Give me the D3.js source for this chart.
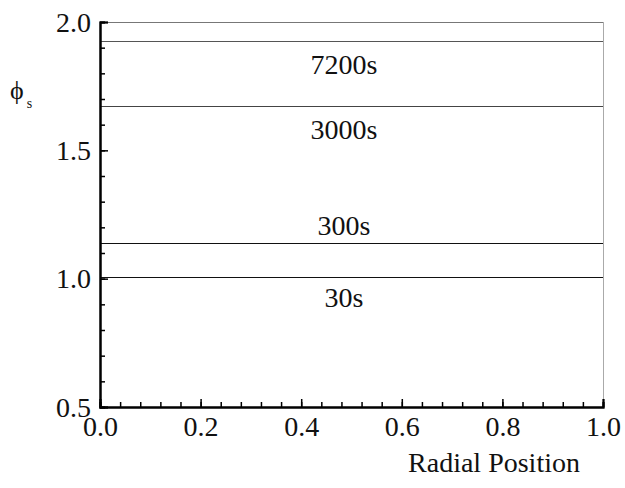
<!DOCTYPE html>
<html>
<head>
<meta charset="utf-8">
<script src="https://cdn.jsdelivr.net/npm/d3@7"></script>
</head>
<body style="margin:0">
<svg id="chart" width="625" height="488"></svg>
<script>
// Solid volume fraction profiles at successive times
const timeLabels = ["7200s", "3000s", "300s", "30s"];
const phiValues  = [1.925, 1.672, 1.140, 1.005];
const lineColors = ["#555", "#444", "#111", "#111"];
const labelDy    = [33, 33, -8, 30];   // label baseline offset from its line, px
const xTickLabels = [0.0, 0.2, 0.4, 0.6, 0.8, 1.0];
const yTickLabels = [0.5, 1.0, 1.5, 2.0];

const FONT = "'Liberation Serif'";
const FS = 28;

const svg = d3.select("#chart");
const plot = { left: 100, right: 603, top: 22, bottom: 407 };

const x = d3.scaleLinear().domain([0, 1]).range([plot.left, plot.right]);
const y = d3.scaleLinear().domain([0.5, 2.0]).range([plot.bottom, plot.top]);

function serif(sel, size) {
  return sel.style("font-family", FONT).attr("font-size", size).attr("fill", "#111");
}

// frame: faint top and right edges
svg.append("line").attr("x1", plot.left).attr("x2", plot.right).attr("y1", plot.top + 0.5).attr("y2", plot.top + 0.5)
  .attr("stroke", "#777").attr("stroke-width", 1);
svg.append("line").attr("x1", plot.right + 0.5).attr("x2", plot.right + 0.5).attr("y1", plot.top).attr("y2", plot.bottom)
  .attr("stroke", "#aaa").attr("stroke-width", 1);

// profile lines with time labels
const g = svg.append("g");
phiValues.forEach((v, i) => {
  g.append("line")
    .attr("x1", x(0)).attr("x2", x(1))
    .attr("y1", Math.round(y(v)) + 0.5).attr("y2", Math.round(y(v)) + 0.5)
    .attr("stroke", lineColors[i]).attr("stroke-width", 1.2);
  serif(g.append("text"), FS)
    .attr("x", x(0.485)).attr("y", y(v) + labelDy[i])
    .attr("text-anchor", "middle")
    .text(timeLabels[i]);
});

// bottom axis, ticks pointing inward
const xMajor = d3.axisBottom(x).tickValues(xTickLabels).tickSize(-8).tickPadding(14)
  .tickFormat(d3.format(".1f"));
const xMinor = d3.axisBottom(x).tickValues(d3.range(0, 1.0001, 0.04)).tickSize(-5).tickFormat("");
const gxm = svg.append("g").attr("transform", `translate(0,${plot.bottom})`).call(xMinor);
const gx = svg.append("g").attr("transform", `translate(0,${plot.bottom})`).call(xMajor);
[gx, gxm].forEach(a => {
  a.select(".domain").attr("stroke", "#000").attr("stroke-width", 2);
  a.selectAll(".tick line").attr("stroke", "#000").attr("stroke-width", 1.5);
});
serif(gx.selectAll(".tick text"), FS).attr("dy", "0.55em");

// left axis, ticks pointing inward
const yMajor = d3.axisLeft(y).tickValues(yTickLabels).tickSize(-8).tickPadding(9)
  .tickFormat(d3.format(".1f"));
const yMinor = d3.axisLeft(y).tickValues(d3.range(0.5, 2.0001, 0.1)).tickSize(-5).tickFormat("");
const gym = svg.append("g").attr("transform", `translate(${plot.left},0)`).call(yMinor);
const gy = svg.append("g").attr("transform", `translate(${plot.left},0)`).call(yMajor);
[gy, gym].forEach(a => {
  a.select(".domain").attr("stroke", "#000").attr("stroke-width", 2);
  a.selectAll(".tick line").attr("stroke", "#000").attr("stroke-width", 1.5);
});
serif(gy.selectAll(".tick text"), FS).attr("dy", "0.33em");

// axis titles
serif(svg.append("text"), FS).attr("x", 494).attr("y", 472).attr("text-anchor", "middle")
  .text("Radial Position");
const yl = serif(svg.append("text"), 26).attr("x", 10).attr("y", 99);
yl.append("tspan").text("\u03D5");
yl.append("tspan").attr("font-size", 14).attr("dx", 3).attr("dy", 9).text("s");
</script>
</body>
</html>
